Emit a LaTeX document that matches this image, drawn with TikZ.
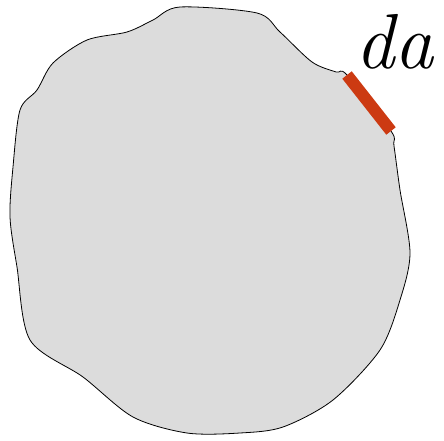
\documentclass[tikz,border=0pt]{standalone}
\usepackage{xcolor}
\definecolor{blobgray}{HTML}{DCDCDC}
\definecolor{patchred}{HTML}{CC3A12}

\begin{document}
\begin{tikzpicture}[x=1pt,y=-1pt]
\tikzstyle{blob}=[draw=black,fill=blobgray,line width=0.8pt]
\tikzstyle{patch}=[draw=patchred,line width=12pt]
\useasboundingbox (0,0) rectangle (444,441);
\coordinate (p1) at (347,75);
\coordinate (p2) at (391,131);
\path[blob] plot[smooth cycle,tension=0.5] coordinates {
  (180,7) (257,13) (280,32) (312,62) (336,72) (p1) (p2) (394,146)
  (400,190) (410,253) (400,300) (380,350) (333,400) (283,427)
  (240,433) (187,433) (133,417) (83,377) (30,340) (17,267)
  (10,217) (13,167) (20,110) (37,90) (53,63) (87,40) (127,32) (153,20)};
\draw[patch] (p1) -- (p2);
\node[anchor=base,font=\fontsize{78}{86}\selectfont\itshape,inner sep=0pt] (lbl) at (394,69) {da};
\end{tikzpicture}
\end{document}
